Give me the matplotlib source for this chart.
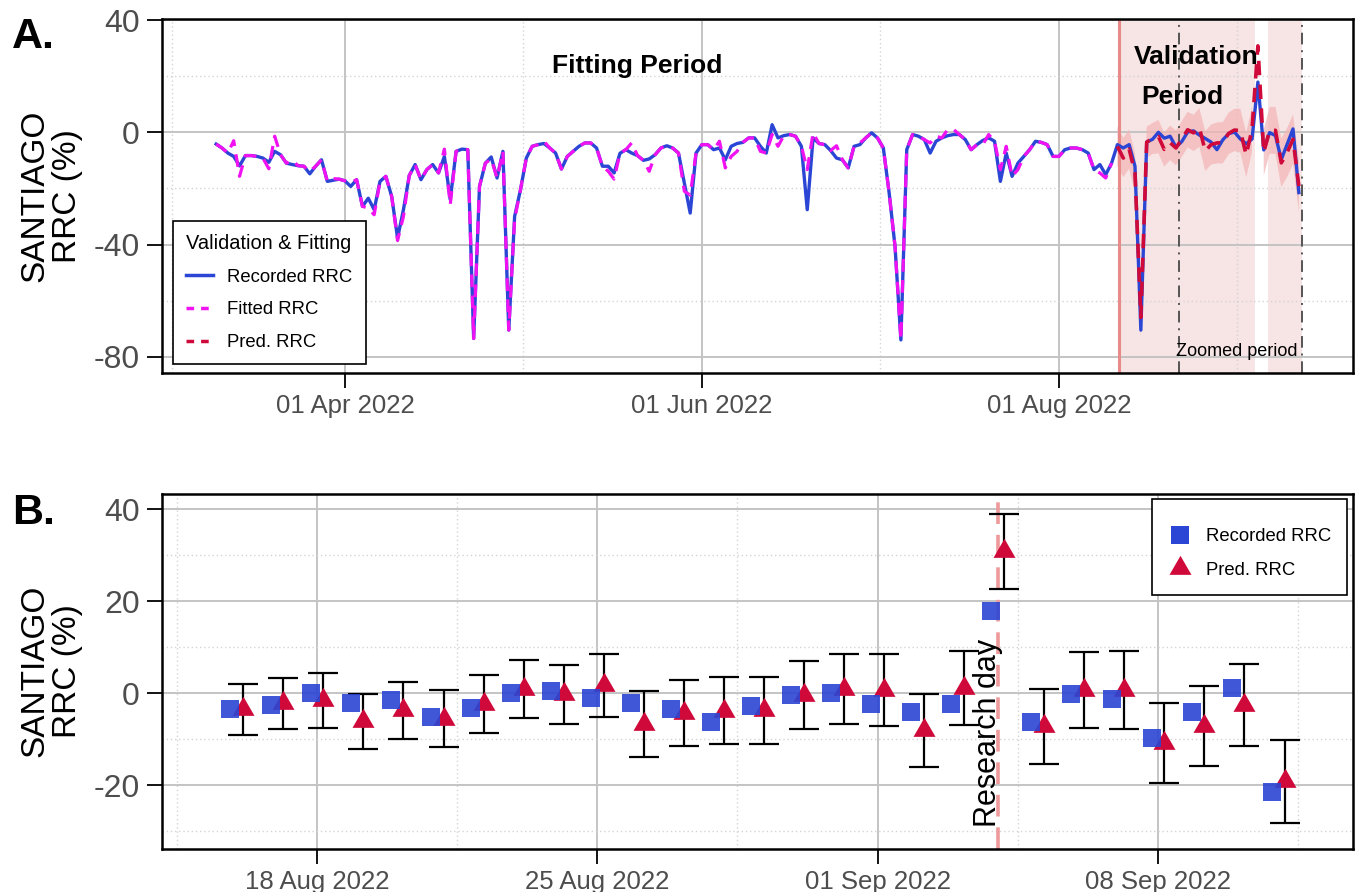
import matplotlib
matplotlib.use('Agg')
import numpy as np
import pandas as pd
import matplotlib.pyplot as plt
import matplotlib.dates as mdates
from matplotlib.path import Path
from matplotlib.lines import Line2D

plt.rcParams['font.family'] = ['Liberation Sans', 'DejaVu Sans']
plt.rcParams['axes.unicode_minus'] = False

# ---------------- data ----------------
start_date = '2022-03-10'
recorded_top = [
    -4.2, -5.6, -7.4, -8.6, -12.0, -8.3, -8.3, -8.6, -9.2, -10.7,
    -6.8, -8.0, -11.0, -11.5, -11.9, -12.1, -14.8, -12.1, -9.8, -17.5,
    -17.1, -16.7, -17.3, -19.3, -16.9, -26.4, -23.5, -27.6, -17.5, -15.7,
    -22.9, -37.7, -27.6, -15.4, -11.5, -16.9, -13.3, -11.5, -14.5, -8.6,
    -24.0, -6.8, -6.0, -6.2, -73.5, -19.3, -11.0, -8.8, -16.3, -6.8,
    -70.5, -30.0, -20.5, -9.2, -5.0, -4.4, -4.0, -5.6, -7.4, -13.1,
    -8.6, -6.8, -5.0, -3.8, -3.8, -5.6, -12.1, -12.1, -14.5, -7.5,
    -6.2, -7.4, -8.3, -10.0, -9.5, -8.0, -5.6, -4.8, -5.6, -7.4,
    -18.1, -28.8, -7.4, -4.4, -4.4, -6.2, -5.6, -9.8, -5.0, -4.0,
    -3.6, -2.0, -2.0, -5.0, -7.4, 2.7, -2.0, -1.2, -0.8, -1.4,
    -5.0, -27.6, -2.0, -4.0, -4.4, -6.5, -9.2, -9.8, -12.7, -5.0,
    -4.4, -2.0, -0.2, -2.0, -5.6, -21.7, -40.7, -74.0, -6.2, -0.8,
    -1.4, -2.6, -7.4, -3.2, -2.0, -1.2, -0.8, -0.8, -2.6, -6.2,
    -4.4, -2.9, -2.0, -3.2, -17.5, -7.4, -15.7, -11.0, -8.6, -6.2,
    -3.2, -3.6, -4.4, -8.6, -8.6, -6.2, -5.6, -5.6, -6.2, -7.4,
    -13.3, -11.5, -15.1, -11.0, -4.4, -5.6, -4.4, -12.1, -70.5,
]
fitted_top = [
    -4.2, -5.6, -7.4, -3.0, -15.7, -8.3, -8.3, -8.6, -9.2, -13.0,
    -1.4, -8.0, -11.0, -10.0, -11.9, -12.1, -14.0, -12.1, -9.8, -17.5,
    -16.5, -16.7, -17.3, -18.0, -16.9, -26.4, -27.0, -29.4, -17.5, -15.7,
    -22.9, -38.6, -30.0, -15.4, -11.5, -16.9, -13.3, -11.5, -14.5, -6.0,
    -25.8, -6.8, -6.0, -6.2, -73.5, -19.3, -11.0, -9.5, -16.3, -6.8,
    -70.5, -31.0, -20.5, -9.2, -5.0, -4.4, -3.2, -5.6, -7.4, -13.1,
    -8.6, -6.8, -5.0, -3.8, -3.8, -5.6, -12.1, -13.9, -16.7, -7.5,
    -6.2, -3.8, -8.3, -10.0, -13.9, -8.0, -5.6, -4.8, -5.6, -7.4,
    -21.0, -22.4, -7.4, -4.4, -4.4, -6.2, -3.2, -12.7, -8.6, -6.8,
    -3.6, -2.0, -2.0, -6.8, -7.4, -0.8, -5.0, -1.2, -0.8, -1.4,
    -5.0, -13.3, -0.2, -4.0, -4.4, -6.5, -4.8, -9.8, -12.7, -5.0,
    -3.8, -2.0, -0.2, -2.0, -5.6, -21.7, -40.7, -74.0, -6.2, -0.8,
    -1.4, -2.6, -3.8, -1.4, -2.0, 1.0, 1.0, -0.8, -2.6, -6.2,
    -4.4, -4.4, -0.8, -3.2, -13.3, -5.0, -15.7, -13.3, -8.6, -6.2,
    -3.2, -3.6, -4.4, -8.6, -8.6, -6.2, -5.6, -5.6, -6.2, -7.4,
    -13.3, -14.5, -16.3, -11.0,
]
# prediction before the zoomed window (11-15 Aug 2022)
pre_pred = [-5.0, -9.2, -6.0, -14.5, -66.0]
pre_lo = [-12.0, -16.0, -13.0, -21.5, -73.0]
pre_hi = [2.0, -2.0, 1.0, -7.5, -59.0]

# zoomed window (16 Aug - 11 Sep 2022)
zoom_start = '2022-08-16'
rec_val = [-3.5, -2.5, 0.0, -2.1, -1.4, -5.3, -3.3, 0.1, 0.5, -1.0,
           -2.2, -3.5, -6.2, -2.7, -0.5, 0.1, -2.4, -4.1, -2.4, 17.9,
           -6.3, -0.1, -1.2, -9.7, -4.2, 1.2, -21.5]
pred_val = [-3.5, -2.2, -1.5, -6.1, -3.7, -5.6, -2.4, 0.9, -0.2, 1.7,
            -6.7, -4.4, -3.8, -3.7, -0.4, 0.8, 0.6, -8.1, 1.1, 30.8,
            -7.2, 0.7, 0.7, -10.9, -7.2, -2.5, -19.2]
pred_hi = [2.0, 3.3, 4.4, -0.1, 2.4, 0.6, 4.0, 7.3, 6.2, 8.6,
           0.4, 2.75, 3.5, 3.6, 7.0, 8.4, 8.4, -0.15, 9.1, 38.9,
           1.0, 9.0, 9.1, -2.2, 1.5, 6.3, -10.3]
pred_lo = [-9.1, -7.75, -7.5, -12.2, -9.9, -11.8, -8.7, -5.4, -6.7, -5.2,
           -13.8, -11.5, -11.1, -11.1, -7.8, -6.7, -7.2, -16.0, -7.0, 22.7,
           -15.4, -7.6, -7.7, -19.5, -15.9, -11.4, -28.2]

research_day = '2022-09-04'
validation_start = '2022-08-11 08:00'
shade_periods = [('2022-08-11 08:00', '2022-09-03 12:00'),
                 ('2022-09-05 16:00', '2022-09-11 14:00')]
zoomed_marks = ['2022-08-21 12:00', '2022-09-11 14:00']

top_major = ['2022-04-01', '2022-06-01', '2022-08-01']
top_minor = ['2022-03-02 12:00', '2022-05-01 12:00', '2022-07-01 12:00', '2022-08-31 12:00']
bot_major = ['2022-08-18', '2022-08-25', '2022-09-01', '2022-09-08']
bot_minor = ['2022-08-14 12:00', '2022-08-21 12:00', '2022-08-28 12:00',
             '2022-09-04 12:00', '2022-09-11 12:00']

# ---------------- colours ----------------
C_REC = '#2B46D4'
C_FIT = '#F012F0'
C_PRED = '#CF0A3A'
C_SHADE = '#F7E4E4'
C_RIB = '#F3B4B4'
C_VLINE = '#E88A8A'
C_TICK = '#4D4D4D'

# ---------------- figure ----------------
W, H = 1361, 892
fig = plt.figure(figsize=(W / 100, H / 100), dpi=100)


def rect(l, t, r, b):
    return [l / W, 1 - b / H, (r - l) / W, (b - t) / H]


ax1 = fig.add_axes(rect(162, 19.5, 1353, 373))
ax2 = fig.add_axes(rect(162, 494, 1353, 849))

dates_all = pd.date_range(start_date, periods=len(recorded_top) + len(rec_val))
rec_all = np.array(recorded_top + rec_val)
d_fit = dates_all[:len(fitted_top)]
zoom_dates = pd.date_range(zoom_start, periods=len(rec_val))
pre_dates = pd.date_range(end=zoom_dates[0] - pd.Timedelta(days=1), periods=len(pre_pred))
pred_dates = pre_dates.append(zoom_dates)
pred_all = np.array(pre_pred + pred_val)
lo_all = np.array(pre_lo + pred_lo, dtype=float)
hi_all = np.array(pre_hi + pred_hi, dtype=float)
rd = pd.Timestamp(research_day)
mask_rd = np.array(pred_dates == rd)
lo_rib = lo_all.copy(); hi_rib = hi_all.copy()
lo_rib[mask_rd] = np.nan; hi_rib[mask_rd] = np.nan

# ---- panel A ----
for a, b in shade_periods:
    ax1.axvspan(pd.Timestamp(a), pd.Timestamp(b), color=C_SHADE, lw=0, zorder=0.5)
ax1.fill_between(pred_dates, lo_rib, hi_rib, color=C_RIB, alpha=0.7, lw=0, zorder=1.5)
ax1.axvline(pd.Timestamp(validation_start), color=C_VLINE, lw=2.2, zorder=1.6)
for zm in zoomed_marks:
    ax1.axvline(pd.Timestamp(zm), color='#555555', lw=1.4, ls=(0, (6, 3, 1, 3)), zorder=1.7)

ax1.plot(dates_all, rec_all, color=C_REC, lw=2.4, zorder=3, solid_joinstyle='round')
ax1.plot(d_fit, fitted_top, color=C_FIT, lw=2.3, dashes=(4, 2.6), zorder=4)
ax1.plot(pred_dates, pred_all, color=C_PRED, lw=2.6, dashes=(4, 2.6), zorder=4)

n_days = (dates_all[-1] - dates_all[0]).days
exp = pd.Timedelta(days=n_days * 0.05)
ax1.set_xlim(dates_all[0] - exp, dates_all[-1] + exp)
ax1.set_ylim(-85.8, 40.2)
ax1.set_yticks([40, 0, -40, -80])
ax1.set_yticks([20, -20, -60], minor=True)
ax1.set_xticks(pd.to_datetime(top_major))
ax1.set_xticks(pd.to_datetime(top_minor), minor=True)
ax1.xaxis.set_major_formatter(mdates.DateFormatter('%d %b %Y'))

ax1.text(pd.Timestamp('2022-05-21'), 23.5, 'Fitting Period', fontsize=19, fontweight='bold',
         ha='center', va='center', zorder=6)
ax1.text(pd.Timestamp('2022-08-24 12:00'), 26.7, 'Validation', fontsize=19, fontweight='bold',
         ha='center', va='center', zorder=6)
ax1.text(pd.Timestamp('2022-08-22 03:00'), 12.4, 'Period', fontsize=19, fontweight='bold',
         ha='center', va='center', zorder=6)
ax1.text(pd.Timestamp('2022-09-10 18:00'), -78.3, 'Zoomed period', fontsize=13,
         ha='right', va='center', zorder=6)

h1 = [Line2D([], [], color=C_REC, lw=2.5),
      Line2D([], [], color=C_FIT, lw=2.5, dashes=(2.2, 2.0)),
      Line2D([], [], color=C_PRED, lw=2.5, dashes=(2.2, 2.0))]
leg1 = ax1.legend(h1, ['Recorded RRC', 'Fitted RRC', 'Pred. RRC'], title='Validation & Fitting',
                  loc='upper left', bbox_to_anchor=(173 / W, 1 - 221 / H),
                  bbox_transform=fig.transFigure, fontsize=13.3, title_fontsize=14.4,
                  frameon=True, fancybox=False, edgecolor='black', framealpha=1,
                  handlelength=1.45, handletextpad=0.8, labelspacing=0.85, borderpad=0.7,
                  borderaxespad=0)
leg1.get_frame().set_linewidth(1.2)
leg1._legend_box.align = 'left'
leg1.set_zorder(10)

# ---- panel B ----
zx = mdates.date2num(zoom_dates)
dodge = 0.16
rdx = mdates.date2num(rd)
ax2.axvline(rdx, color='#EE9A9A', lw=2.6, dashes=(6, 3), zorder=1.5)
pv = np.array(pred_val); ph = np.array(pred_hi); pl = np.array(pred_lo)
ax2.errorbar(zx + dodge, pv, yerr=[pv - pl, ph - pv], fmt='none', ecolor='black',
             elinewidth=1.6, capsize=10.5, capthick=1.6, zorder=2.5)
tri = Path([(0, 1), (-0.866, -0.5), (0.866, -0.5), (0, 1)],
           [Path.MOVETO, Path.LINETO, Path.LINETO, Path.CLOSEPOLY])
ax2.plot(zx + dodge, pv, linestyle='none', marker=tri, markersize=18.3,
         color=C_PRED, markeredgewidth=0, zorder=3)
ax2.plot(zx - dodge, rec_val, linestyle='none', marker='s', markersize=12.3,
         color=C_REC, alpha=0.9, markeredgewidth=0, zorder=4)

ax2.text(rdx - 0.25, -8.7, 'Research day', rotation=90, fontsize=22,
         ha='center', va='center', zorder=5)

ax2.set_xlim(zx[0] - 1.87, zx[-1] + 1.87)
ax2.set_ylim(-33.9, 43.3)
ax2.set_yticks([40, 20, 0, -20])
ax2.set_yticks([30, 10, -10, -30], minor=True)
ax2.set_xticks(mdates.date2num(pd.to_datetime(bot_major)))
ax2.set_xticks(mdates.date2num(pd.to_datetime(bot_minor)), minor=True)
ax2.xaxis.set_major_formatter(mdates.DateFormatter('%d %b %Y'))

h2 = [Line2D([], [], color=C_REC, marker='s', ls='none', markersize=12.3, markeredgewidth=0),
      Line2D([], [], color=C_PRED, marker=tri, ls='none', markersize=18.3, markeredgewidth=0)]
leg2 = ax2.legend(h2, ['Recorded RRC', 'Pred. RRC'], loc='upper left', title=' ',
                  bbox_to_anchor=(1152 / W, 1 - 499 / H), bbox_transform=fig.transFigure,
                  fontsize=13.3, title_fontsize=6, frameon=True, fancybox=False,
                  edgecolor='black', framealpha=1,
                  handlelength=1.2, handletextpad=0.8, labelspacing=0.9, borderpad=0.9,
                  borderaxespad=0)
leg2._legend_box.sep = 4
leg2.get_frame().set_linewidth(1.2)
leg2.set_zorder(10)

# ---- styling ----
for ax in (ax1, ax2):
    ax.grid(which='major', color='#C4C4C4', lw=1.4, ls='-')
    ax.grid(which='minor', color='#D4D4D4', lw=1.0, ls=(0, (1, 2)))
    ax.set_axisbelow(True)
    for s in ax.spines.values():
        s.set_linewidth(1.8)
        s.set_color('black')
    ax.tick_params(which='major', direction='out', length=11, width=1.3, color='black',
                   labelcolor=C_TICK)
    ax.tick_params(which='minor', length=0)
    ax.tick_params(axis='y', labelsize=23, pad=5)
    ax.tick_params(axis='x', labelsize=18.5, pad=4)

fig.text(51 / W, 1 - 196 / H, 'SANTIAGO\nRRC (%)', rotation=90, fontsize=24,
         ha='center', va='center', multialignment='center', linespacing=1.05)
fig.text(51 / W, 1 - 671 / H, 'SANTIAGO\nRRC (%)', rotation=90, fontsize=24,
         ha='center', va='center', multialignment='center', linespacing=1.05)
fig.text(12 / W, 1 - 48 / H, 'A.', fontsize=31, fontweight='bold', ha='left', va='baseline')
fig.text(12 / W, 1 - 524 / H, 'B.', fontsize=31, fontweight='bold', ha='left', va='baseline')

fig.savefig('out.png', dpi=100)
